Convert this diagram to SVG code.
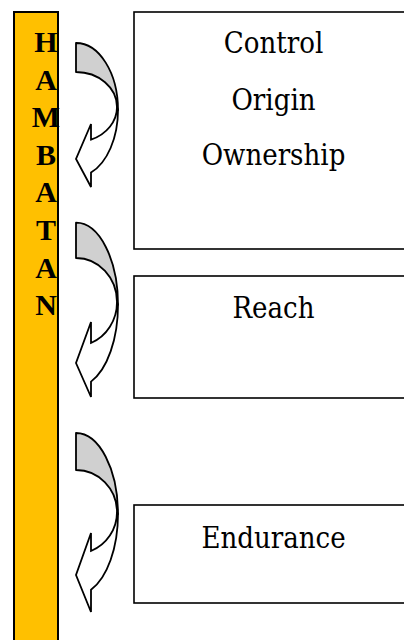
<svg xmlns="http://www.w3.org/2000/svg" width="404" height="640" viewBox="0 0 404 640">
  <style>
    .bar { fill: #FFC000; stroke: #000; stroke-width: 2; }
    .box { fill: #fff; stroke: #000; stroke-width: 1.6; }
    .letter { font-family: "Liberation Serif", serif; font-weight: bold; font-size: 30px; fill: #000; text-anchor: middle; }
    .label { font-family: "DejaVu Serif Condensed", "DejaVu Serif", serif; font-stretch: condensed; font-size: 29px; fill: #000; text-anchor: middle; }
    .back { fill: #D0D0D0; stroke: #000; stroke-width: 1.8; stroke-linejoin: round; }
    .front { fill: #fff; stroke: #000; stroke-width: 1.8; stroke-linejoin: miter; }
  </style>

  <!-- vertical banner -->
  <g id="banner">
    <rect class="bar" x="14" y="12" width="44" height="640"/>
    <text class="letter" x="46" y="52">H</text>
    <text class="letter" x="46" y="89.6">A</text>
    <text class="letter" x="46" y="127.2">M</text>
    <text class="letter" x="46" y="164.8">B</text>
    <text class="letter" x="46" y="202.4">A</text>
    <text class="letter" x="46" y="240">T</text>
    <text class="letter" x="46" y="277.6">A</text>
    <text class="letter" x="46" y="315">N</text>
  </g>

  <!-- curved arrows -->
  <g id="connectors">
    <g id="arrow1">
      <path class="back" d="M76,43 A42,67 0 0 1 118,110 L117,107 A41,35 0 0 0 76,72 Z"/>
      <path class="front" d="M117,107 A41,35 0 0 1 91,139.6 L91,124 L76,159 L91,187 L91,172.6 A42,67 0 0 0 118,110 Z"/>
    </g>
    <g id="arrow2">
      <path class="back" d="M76,222.7 A42,82 0 0 1 118,304.7 L117,302 A41,44 0 0 0 76,258 Z"/>
      <path class="front" d="M117,302 A41,44 0 0 1 91,343 L91,322 L76,363 L91,397 L91,381.6 A42,82 0 0 0 118,304.7 Z"/>
    </g>
    <g id="arrow3">
      <path class="back" d="M76,433 A42,81 0 0 1 118,514 L117,512 A41,42 0 0 0 76,470 Z"/>
      <path class="front" d="M117,512 A41,42 0 0 1 91,551 L91,533 L76,575 L91,612 L91,589.7 A42,81 0 0 0 118,514 Z"/>
    </g>
  </g>

  <!-- content boxes -->
  <g id="box-control">
    <rect class="box" x="134" y="12" width="280" height="237"/>
    <text class="label" x="273.5" y="53">Control</text>
    <text class="label" x="273.5" y="110">Origin</text>
    <text class="label" x="273.5" y="165">Ownership</text>
  </g>
  <g id="box-reach">
    <rect class="box" x="134" y="276" width="280" height="122"/>
    <text class="label" x="273.5" y="318">Reach</text>
  </g>
  <g id="box-endurance">
    <rect class="box" x="134" y="505" width="280" height="98"/>
    <text class="label" x="273.5" y="548">Endurance</text>
  </g>
</svg>
